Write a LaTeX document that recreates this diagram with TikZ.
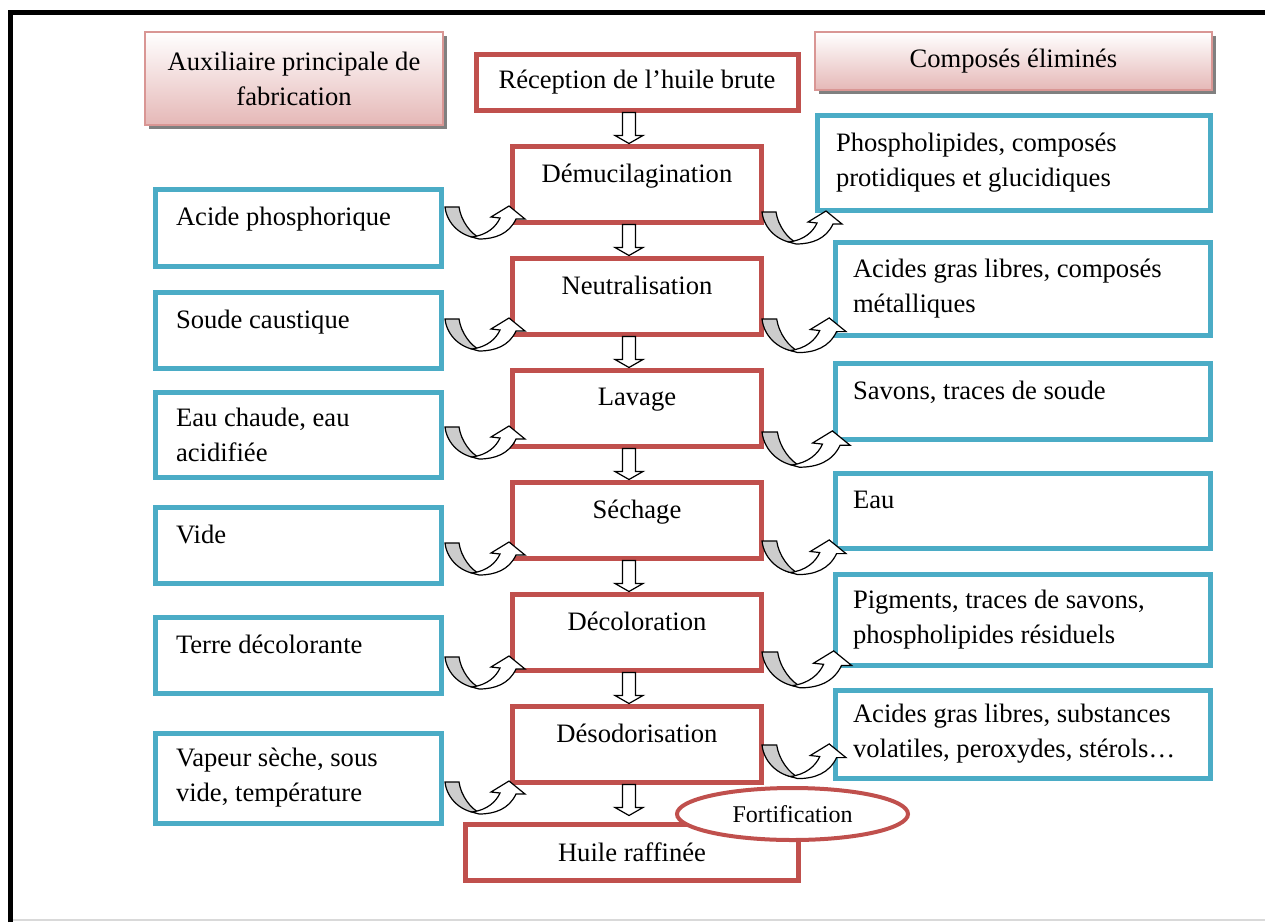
\documentclass[tikz,border=0pt]{standalone}
\usepackage{fontspec}
\setmainfont{Liberation Serif}
\usetikzlibrary{positioning,shapes.geometric,shadows}

\definecolor{stepred}{RGB}{192,80,77}
\definecolor{auxblue}{RGB}{75,172,198}
\definecolor{headpink}{RGB}{229,184,183}
\definecolor{headline}{RGB}{217,150,148}

\tikzset{
  stepbox/.style={draw=stepred, line width=2.5pt, fill=white, minimum width=124.5pt,
    minimum height=38pt, align=center},
  inbox/.style={draw=auxblue, line width=2.5pt, align=left, text width=122pt,
    inner xsep=10.5pt, minimum height=38pt},
  outbox/.style={draw=auxblue, line width=2.5pt, align=left, text width=169.5pt,
    inner xsep=9pt, minimum height=38pt},
  headbox/.style={draw=headline, line width=0.8pt, top color=white, bottom color=headpink,
    drop shadow={shadow xshift=2pt, shadow yshift=-2pt, fill=black!50, opacity=1},
    align=center},
  oneline/.style={text depth=11pt},
  uturn/.pic={
    \path[draw=black, line width=0.6pt, fill=gray!40] (0,0) -- (14,0)
      .. controls (16,14) and (26,27) .. (35,31)
      .. controls (18,31) and (2,18) .. (0,0) -- cycle;
    \path[draw=black, line width=0.6pt, fill=white] (27,30)
      .. controls (42,28) and (51,20) .. (55,11) -- (46,10) -- (64,-1) -- (80,12) -- (71,12)
      .. controls (64,27) and (50,32) .. (34,32) -- cycle;
  },
  downarr/.pic={
    \path[draw=black, line width=0.6pt, fill=white] (-6.5,0) -- (6.5,0) -- (6.5,23)
      -- (14,23) -- (0,31) -- (-14,23) -- (-6.5,23) -- cycle;
  }
}

\begin{document}
\begin{tikzpicture}[x=0.5pt, y=-0.5pt, font=\fontsize{13.3}{17.5}\selectfont,
  execute at begin node={\spaceskip=0pt\xspaceskip=0pt\relax}]
\useasboundingbox (0,0) rectangle (1265,922);
% cadre
\draw[black!15, line width=1pt] (10,919.5) -- (1265,919.5);
\draw[line width=2.5pt] (10,922) -- (10,12) -- (1265,12);

% en-tetes
\node[headbox, minimum width=149pt, minimum height=46.5pt] (aux) at (294,78.5)
  {Auxiliaire principale de\\fabrication};
\node[headbox, minimum width=198.5pt, minimum height=29pt] (elim) at (1013.5,61)
  {Composés éliminés};

% etapes du raffinage
\node[stepbox, minimum width=161pt, minimum height=28pt] (recep) at (637,82)
  {Réception de l’huile brute};
\node[stepbox, oneline, below=15.5pt of recep] (demucil) {Démucilagination};
\node[stepbox, oneline, below=15.5pt of demucil] (neutral) {Neutralisation};
\node[stepbox, oneline, below=15.5pt of neutral] (lavage) {Lavage};
\node[stepbox, oneline, below=15.5pt of lavage] (sechage) {Séchage};
\node[stepbox, oneline, below=15.5pt of sechage] (decol) {Décoloration};
\node[stepbox, oneline, below=15.5pt of decol] (desodo) {Désodorisation};
\node[stepbox, minimum width=166.5pt, minimum height=28pt, below=18.5pt of desodo,
  xshift=-2.5pt] (huile) {Huile raffinée};

% auxiliaires
\node[inbox, oneline, minimum height=38.5pt] (acide) at (298,227.5) {Acide phosphorique};
\node[inbox, oneline] (soude) at (298,330) {Soude caustique};
\node[inbox, minimum height=42.5pt] (eauch) at (298,434.5) {Eau chaude, eau\\acidifiée};
\node[inbox, oneline] (vide) at (298,545) {Vide};
\node[inbox, oneline] (terre) at (298,655) {Terre décolorante};
\node[inbox, minimum height=45pt] (vapeur) at (298,778) {Vapeur sèche, sous\\vide, température};

% composes elimines
\node[outbox, text width=177.5pt, inner xsep=9.5pt, minimum height=47.5pt] (phospho)
  at (1013.5,162.5) {Phospholipides, composés\\protidiques et glucidiques};
\node[outbox, minimum height=46.5pt] (agl) at (1022.5,288.5)
  {Acides gras libres, composés\\métalliques};
\node[outbox, oneline] (savons) at (1022.5,401) {Savons, traces de soude};
\node[outbox, oneline, minimum height=37.5pt] (eau) at (1022.5,510.5) {Eau};
\node[outbox, minimum height=45.5pt] (pigm) at (1022.5,619.5)
  {Pigments, traces de savons,\\phospholipides résiduels};
\node[outbox, minimum height=44pt] (volat) at (1022.5,734)
  {Acides gras libres, substances\\volatiles, peroxydes, stérols…};

% fleches
\foreach \a in {recep,demucil,neutral,lavage,sechage,decol,desodo}
  \pic at ([xshift=-4pt]\a.south) {downarr};
\foreach \y in {207,319,427,543,657,782}
  \pic at (445,\y) {uturn};
\foreach \y/\s in {212/1,319/1.05,432/1.1,541/1.05,652/1.12,745/1.05}
  \pic[scale=\s] at (762,\y) {uturn};

\node[ellipse, draw=stepred, line width=2pt, fill=white, minimum width=115.5pt,
  minimum height=26pt, font=\fontsize{12}{14}\selectfont] (fortif) at (792.5,814)
  {Fortification};
\end{tikzpicture}
\end{document}
